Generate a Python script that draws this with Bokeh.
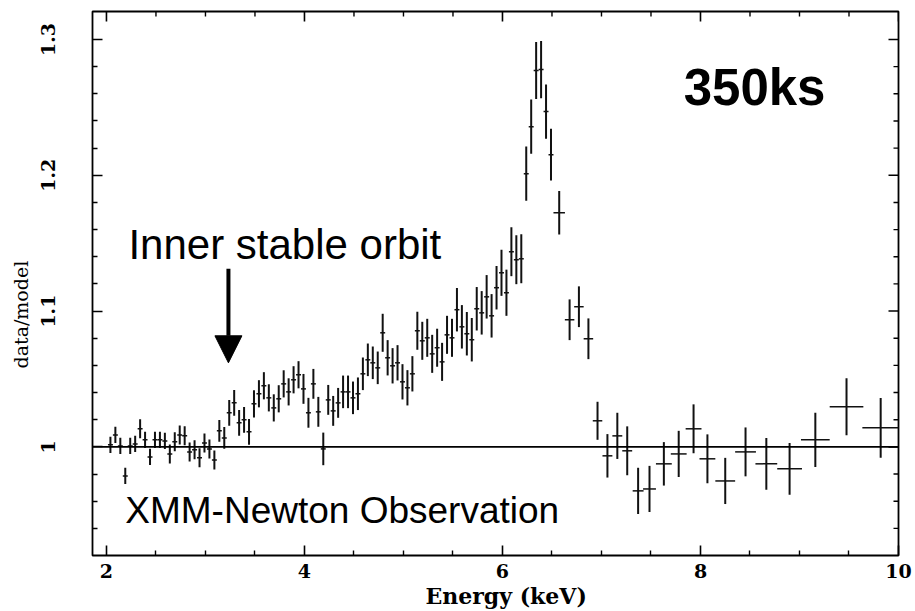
import math
from bokeh.plotting import figure
from bokeh.models import (ColumnDataSource, Span, Label, Arrow, NormalHead,
                          LinearAxis, FixedTicker, Range1d, Title)
from bokeh.embed import file_html
from bokeh.resources import INLINE

# ---------------- data ----------------
energy = [2.04, 2.09, 2.14, 2.19, 2.24, 2.29, 2.34, 2.39, 2.44, 2.49,
          2.54, 2.59, 2.64, 2.69, 2.74, 2.79, 2.84, 2.89, 2.94, 2.99,
          3.04, 3.09, 3.14, 3.19, 3.24, 3.29, 3.34, 3.39, 3.44, 3.49,
          3.54, 3.59, 3.64, 3.69, 3.74, 3.79, 3.84, 3.89, 3.94, 3.99,
          4.04, 4.09, 4.14, 4.19, 4.24, 4.29, 4.34, 4.39, 4.44, 4.49,
          4.54, 4.59, 4.64, 4.69, 4.74, 4.79, 4.84, 4.89, 4.94, 4.99,
          5.04, 5.09, 5.14, 5.19, 5.24, 5.29, 5.34, 5.39, 5.44, 5.49,
          5.54, 5.59, 5.64, 5.69, 5.74, 5.79, 5.84, 5.89, 5.94, 5.99,
          6.04, 6.09, 6.14, 6.19, 6.24, 6.29, 6.34, 6.39, 6.44, 6.49,
          6.573, 6.678, 6.772, 6.868, 6.96, 7.06, 7.16, 7.26, 7.37, 7.485,
          7.63, 7.78, 7.93, 8.07, 8.25, 8.455, 8.665, 8.90, 9.16, 9.475,
          9.82]

energy_halfwidth = [0.025] * 90 + [
          0.058, 0.048, 0.048, 0.048, 0.048, 0.05, 0.05, 0.05, 0.055, 0.065,
          0.08, 0.08, 0.08, 0.08, 0.10, 0.105, 0.11, 0.125, 0.145, 0.17,
          0.185]

ratio = [1.0015, 1.0088, 1.0007, 0.9786, 1.0007, 1.0022, 1.0133, 1.0052, 0.9926, 1.0052,
         1.0052, 1.0044, 0.9948, 1.0037, 1.0088, 1.0081, 0.9963, 0.9978, 0.9919, 1.0029,
         0.9985, 0.9904, 1.0118, 1.0066, 1.0251, 1.0324, 1.0177, 1.0199, 1.0111, 1.0317,
         1.0391, 1.0450, 1.0361, 1.0287, 1.0354, 1.0464, 1.0405, 1.0494, 1.0531, 1.0427,
         1.0251, 1.0464, 1.0258, 0.9985, 1.0346, 1.0265, 1.0324, 1.0405, 1.0405, 1.0361,
         1.0391, 1.0538, 1.0641, 1.0619, 1.0582, 1.0840, 1.0656, 1.0597, 1.0619, 1.0479,
         1.0435, 1.0538, 1.0855, 1.0781, 1.0803, 1.0685, 1.0730, 1.0626, 1.0825, 1.0803,
         1.1010, 1.0884, 1.0833, 1.0789, 1.1017, 1.0987, 1.1105, 1.0965, 1.1172, 1.1282,
         1.1135, 1.1437, 1.1378, 1.1385, 1.2012, 1.2358, 1.2771, 1.2778, 1.2469, 1.2152,
         1.1724, 1.0936, 1.1032, 1.0796, 1.0192, 0.9934, 1.0081, 0.9971, 0.9676, 0.9690,
         0.9875, 0.9948, 1.0133, 0.9912, 0.9749, 0.9963, 0.9875, 0.9838, 1.0052, 1.0295,
         1.0140]

ratio_err = [0.006, 0.006, 0.006, 0.006, 0.006, 0.006, 0.007, 0.006, 0.006, 0.006,
             0.006, 0.006, 0.007, 0.007, 0.007, 0.007, 0.007, 0.007, 0.007, 0.007,
             0.007, 0.007, 0.008, 0.008, 0.0095, 0.0095, 0.0095, 0.0095, 0.0095, 0.010,
             0.010, 0.010, 0.010, 0.010, 0.010, 0.010, 0.010, 0.010, 0.010, 0.011,
             0.011, 0.011, 0.011, 0.012, 0.011, 0.011, 0.011, 0.012, 0.012, 0.012,
             0.012, 0.012, 0.012, 0.012, 0.012, 0.014, 0.013, 0.013, 0.013, 0.013,
             0.013, 0.013, 0.014, 0.014, 0.014, 0.014, 0.014, 0.014, 0.014, 0.014,
             0.016, 0.016, 0.016, 0.016, 0.016, 0.016, 0.016, 0.016, 0.016, 0.017,
             0.017, 0.018, 0.018, 0.018, 0.020, 0.020, 0.021, 0.021, 0.020, 0.019,
             0.016, 0.015, 0.015, 0.015, 0.014, 0.016, 0.017, 0.018, 0.017, 0.017,
             0.016, 0.017, 0.018, 0.018, 0.017, 0.018, 0.019, 0.019, 0.020, 0.021,
             0.022]

x_ticks = [2, 4, 6, 8, 10]
x_minor = [2.5, 3, 3.5, 4.5, 5, 5.5, 6.5, 7, 7.5, 8.5, 9, 9.5]
y_ticks = [1.0, 1.1, 1.2, 1.3]
y_minor = [0.94, 0.96, 0.98, 1.02, 1.04, 1.06, 1.08, 1.12, 1.14, 1.16, 1.18,
           1.22, 1.24, 1.26, 1.28]

x_lo, x_hi = 1.859, 10.0
y_lo, y_hi = 0.92, 1.3206

# ---------------- figure ----------------
src = ColumnDataSource(dict(
    x=energy, y=ratio,
    x0=[e - d for e, d in zip(energy, energy_halfwidth)],
    x1=[e + d for e, d in zip(energy, energy_halfwidth)],
    y0=[r - d for r, d in zip(ratio, ratio_err)],
    y1=[r + d for r, d in zip(ratio, ratio_err)],
))

p = figure(width=915, height=611, output_backend="svg", toolbar_location=None,
           x_range=Range1d(x_lo, x_hi), y_range=Range1d(y_lo, y_hi),
           min_border_left=92, min_border_right=17, min_border_top=11,
           min_border_bottom=56, x_axis_location=None, y_axis_location=None)
p.grid.visible = False
p.outline_line_color = "black"
p.outline_line_width = 1.8
p.background_fill_color = "white"
p.border_fill_color = "white"

serif = "DejaVu Serif"

def style_axis(ax, ticks, minor):
    ax.ticker = FixedTicker(ticks=ticks, minor_ticks=minor)
    ax.major_tick_in = 10
    ax.major_tick_out = 0
    ax.minor_tick_in = 5
    ax.minor_tick_out = 0
    ax.major_tick_line_width = 1.6
    ax.minor_tick_line_width = 1.4
    ax.major_tick_line_color = "black"
    ax.minor_tick_line_color = "black"
    ax.axis_line_color = None
    ax.major_label_text_font = serif
    ax.major_label_text_font_style = "bold"
    ax.major_label_text_font_size = "19px"
    ax.major_label_text_color = "black"

xb = LinearAxis()
style_axis(xb, x_ticks, x_minor)
xb.major_label_standoff = 8
p.add_layout(xb, "below")

yl = LinearAxis()
style_axis(yl, y_ticks, y_minor)
yl.major_label_orientation = "parallel"
yl.major_label_standoff = 37
p.add_layout(yl, "left")

# axis titles placed as side titles so they can be positioned along the frame
p.add_layout(Title(text="Energy (keV)", align="left", offset=333, standoff=0,
                   vertical_align="bottom", text_font=serif, text_font_style="bold",
                   text_font_size="22px", text_color="black"), "below")
p.add_layout(Title(text="data/model", align="left", offset=187, standoff=12,
                   vertical_align="middle", text_font=serif, text_font_style="normal",
                   text_font_size="19px", text_color="black"), "left")

# mirrored tick marks on the top and right edges
tick_kw = dict(length_units="screen", line_color="black")
p.ray(x=[x_hi] * len(y_ticks), y=y_ticks, length=10, angle=math.pi, line_width=1.6, **tick_kw)
p.ray(x=[x_hi] * len(y_minor), y=y_minor, length=5, angle=math.pi, line_width=1.4, **tick_kw)
p.ray(x=x_ticks, y=[y_hi] * len(x_ticks), length=10, angle=-math.pi / 2, line_width=1.6, **tick_kw)
p.ray(x=x_minor, y=[y_hi] * len(x_minor), length=5, angle=-math.pi / 2, line_width=1.4, **tick_kw)

# reference line at unity
p.add_layout(Span(location=1.0, dimension="width", line_color="black", line_width=1.6))

# error bars
p.segment(x0="x", y0="y0", x1="x", y1="y1", source=src, line_color="#111111", line_width=2)
p.segment(x0="x0", y0="y", x1="x1", y1="y", source=src, line_color="#111111", line_width=1.5)

# annotations
p.add_layout(Label(x=2.222, y=1.149, text="Inner stable orbit", text_font="Liberation Sans",
                   text_font_size="42px", text_color="black", text_baseline="alphabetic"))
p.add_layout(Label(x=7.83, y=1.2646, text="350ks", text_font="Liberation Sans",
                   text_font_style="bold", text_font_size="51px", text_color="black",
                   text_baseline="alphabetic"))
p.add_layout(Label(x=2.19, y=0.9535, text="XMM-Newton Observation", text_font="Liberation Sans",
                   text_font_size="37px", text_color="black", text_baseline="alphabetic"))
p.add_layout(Arrow(end=NormalHead(size=27, fill_color="black", line_color="black"),
                   x_start=3.232, y_start=1.1312, x_end=3.232, y_end=1.0619,
                   line_width=4, line_color="black"))

open("out.html", "w").write(file_html(p, INLINE))
